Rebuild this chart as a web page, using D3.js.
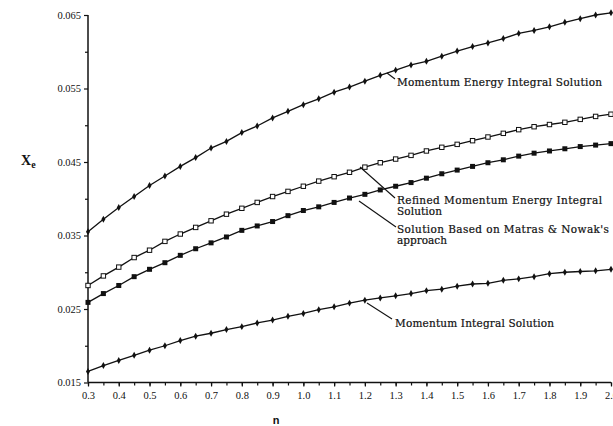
<!DOCTYPE html>
<html><head><meta charset="utf-8">
<script src="https://cdn.jsdelivr.net/npm/d3@7/dist/d3.min.js"></script>
<style>body{margin:0;background:#fff}svg{display:block}</style>
</head><body><svg id="c" width="613" height="426"></svg>
<script>
// ---- data ----
const nValues = [0.30,0.35,0.40,0.45,0.50,0.55,0.60,0.65,0.70,0.75,0.80,0.85,0.90,0.95,1.00,1.05,1.10,1.15,1.20,1.25,1.30,1.35,1.40,1.45,1.50,1.55,1.60,1.65,1.70,1.75,1.80,1.85,1.90,1.95,2.00];
const momentumEnergy = [0.0355,0.0372,0.0388,0.0403,0.0418,0.0431,0.0444,0.0456,0.0469,0.0478,0.0490,0.0499,0.0510,0.0519,0.0528,0.0536,0.0545,0.0552,0.0560,0.0568,0.0575,0.0582,0.0587,0.0594,0.0601,0.0607,0.0612,0.0618,0.0625,0.0629,0.0634,0.0640,0.0645,0.0650,0.0653];
const refinedMomentumEnergy = [0.0282,0.0295,0.0307,0.0320,0.0330,0.0342,0.0352,0.0361,0.0370,0.0379,0.0387,0.0395,0.0403,0.0410,0.0417,0.0424,0.0430,0.0436,0.0443,0.0449,0.0454,0.0459,0.0465,0.0470,0.0474,0.0479,0.0484,0.0489,0.0494,0.0498,0.0501,0.0504,0.0508,0.0512,0.0515];
const matrasNowak = [0.0259,0.0271,0.0282,0.0294,0.0304,0.0313,0.0323,0.0332,0.0340,0.0348,0.0357,0.0363,0.0369,0.0377,0.0384,0.0389,0.0395,0.0401,0.0406,0.0412,0.0417,0.0422,0.0428,0.0434,0.0439,0.0444,0.0449,0.0453,0.0458,0.0462,0.0465,0.0468,0.0471,0.0473,0.0475];
const momentumIntegral = [0.0165,0.0173,0.0180,0.0187,0.0194,0.0200,0.0207,0.0213,0.0217,0.0222,0.0226,0.0231,0.0235,0.0240,0.0244,0.0249,0.0253,0.0258,0.0262,0.0265,0.0268,0.0271,0.0275,0.0277,0.0281,0.0284,0.0285,0.0289,0.0291,0.0294,0.0298,0.0300,0.0301,0.0302,0.0304];
const xTickLabels = ["0.3","0.4","0.5","0.6","0.7","0.8","0.9","1.0","1.1","1.2","1.3","1.4","1.5","1.6","1.7","1.8","1.9","2.0"];
const yTickLabels = ["0.015","0.025","0.035","0.045","0.055","0.065"];

// ---- chart ----
const svg = d3.select("#c");
const x = d3.scaleLinear().domain([0.3, 2.0]).range([88, 611]);
const y = d3.scaleLinear().domain([0.015, 0.065]).range([382.5, 15]);

const xMajor = xTickLabels.map(Number);
const xMinor = nValues;
const yMajor = yTickLabels.map(Number);
const yMinor = [0.020,0.030,0.040,0.050,0.060];

const xAxis = svg.append("g").attr("transform", "translate(0,382.5)")
  .call(d3.axisBottom(x).tickValues(xMajor).tickFormat((d,i)=>xTickLabels[i]).tickSize(4).tickPadding(5));
const xAxisMinor = svg.append("g").attr("transform", "translate(0,382.5)")
  .call(d3.axisBottom(x).tickValues(xMinor).tickFormat("").tickSize(3));
const yAxis = svg.append("g").attr("transform", "translate(88,0)")
  .call(d3.axisLeft(y).tickValues(yMajor).tickFormat((d,i)=>yTickLabels[i]).tickSize(4).tickPadding(3));
const yAxisMinor = svg.append("g").attr("transform", "translate(88,0)")
  .call(d3.axisLeft(y).tickValues(yMinor).tickFormat("").tickSize(3));

svg.selectAll(".domain").attr("stroke", "#111").attr("stroke-width", 1.5);
svg.selectAll(".tick line").attr("stroke", "#111").attr("stroke-width", 1.2);
svg.selectAll(".tick text").attr("font-family", "'Liberation Serif', serif").attr("font-size", 10.5).attr("fill", "#111");
xAxisMinor.select(".domain").remove();
yAxisMinor.select(".domain").remove();
xAxis.select(".domain").attr("d", `M${x(0.3)},0H${x(2.0)}`);
yAxis.select(".domain").attr("d", `M0,${y(0.015)}V${y(0.065)}`);

// series
const series = [
  {vals: momentumEnergy, marker: "dot"},
  {vals: refinedMomentumEnergy, marker: "open"},
  {vals: matrasNowak, marker: "square"},
  {vals: momentumIntegral, marker: "dot"}
];
const line = d3.line().x((d,i)=>x(nValues[i])).y(d=>y(d));
series.forEach(s => {
  svg.append("path").datum(s.vals).attr("d", line)
    .attr("fill", "none").attr("stroke", "#111").attr("stroke-width", 1.3);
  const g = svg.append("g");
  if (s.marker === "dot") {
    g.selectAll("path").data(s.vals).join("path")
      .attr("d", d3.symbol(d3.symbolDiamond, 14)())
      .attr("transform", (d,i)=>`translate(${x(nValues[i])},${y(d)})`)
      .attr("fill", "#111");
  } else if (s.marker === "open") {
    g.selectAll("rect").data(s.vals).join("rect")
      .attr("x", (d,i)=>x(nValues[i]) - 2.2).attr("y", d=>y(d) - 2.2)
      .attr("width", 4.4).attr("height", 4.4)
      .attr("fill", "#fff").attr("stroke", "#111").attr("stroke-width", 1);
  } else {
    g.selectAll("rect").data(s.vals).join("rect")
      .attr("x", (d,i)=>x(nValues[i]) - 2.5).attr("y", d=>y(d) - 2.5)
      .attr("width", 5).attr("height", 5).attr("fill", "#111");
  }
});

// annotations
const annFont = "'DejaVu Serif', serif";
const annotations = [
  {line: [387, 73, 395, 79], texts: [["Momentum Energy Integral Solution", 397, 85.5, 205]]},
  {line: [360, 167, 395, 198], texts: [["Refined Momentum Energy Integral", 397, 204, 205], ["Solution", 397, 215, 45]]},
  {line: [359, 201, 396, 227], texts: [["Solution Based on Matras & Nowak's", 397, 233, 212], ["approach", 397, 244, 50]]},
  {line: [367, 303, 392, 319], texts: [["Momentum Integral Solution", 395, 326.5, 159]]}
];
annotations.forEach(a => {
  svg.append("line").attr("x1", a.line[0]).attr("y1", a.line[1]).attr("x2", a.line[2]).attr("y2", a.line[3])
    .attr("stroke", "#111").attr("stroke-width", 1.1);
  a.texts.forEach(t => {
    svg.append("text").attr("x", t[1]).attr("y", t[2]).text(t[0])
      .attr("font-family", annFont).attr("font-size", 10.5).attr("fill", "#111")
      .attr("stroke", "#111").attr("stroke-width", 0.2)
      .attr("textLength", t[3]).attr("lengthAdjust", "spacing");
  });
});

// axis titles
const yt = svg.append("text").attr("x", 21).attr("y", 165)
  .attr("font-family", "'Liberation Serif', serif").attr("font-weight", "bold").attr("font-size", 14).attr("fill", "#111");
yt.append("tspan").text("X");
yt.append("tspan").text("e").attr("font-size", 10).attr("dy", 3);
svg.append("text").attr("x", 276).attr("y", 424).attr("text-anchor", "middle").text("n")
  .attr("font-family", "'Liberation Sans', sans-serif").attr("font-weight", "bold").attr("font-size", 11).attr("fill", "#111");
</script></body></html>
